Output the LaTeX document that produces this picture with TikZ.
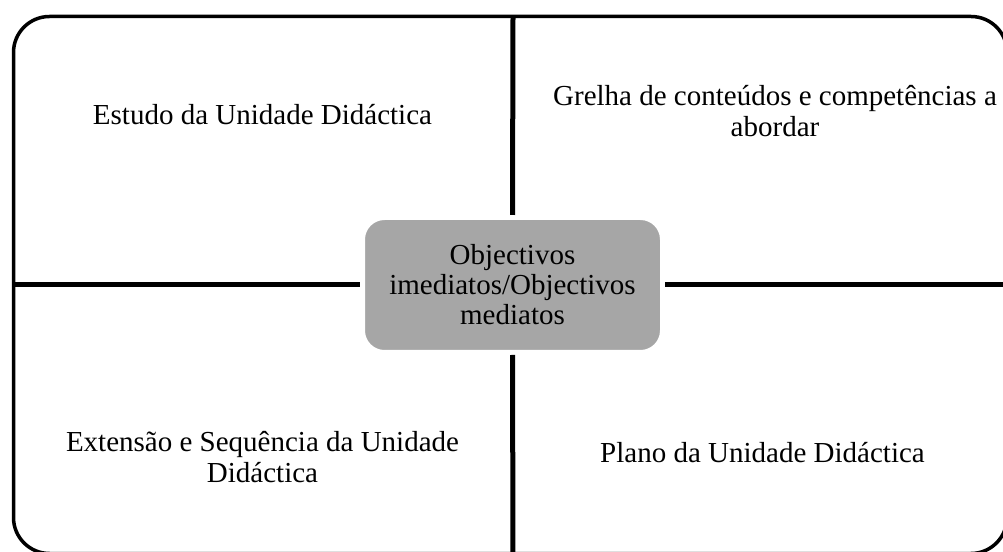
\documentclass[tikz,border=0pt]{standalone}
\usepackage{fontspec}
\setmainfont{Liberation Serif}
\definecolor{coregray}{RGB}{166,166,166}
\begin{document}
\begin{tikzpicture}[x=1pt,y=1pt,
  quadline/.style={line width=5pt, black},
  frame/.style={line width=3.5pt, black, rounded corners=36pt},
  lbl/.style={font=\fontsize{29}{31}\selectfont, align=center, inner sep=0pt},
  core/.style={lbl, font=\fontsize{29}{30}\selectfont, draw=white, line width=5pt, fill=coregray, rounded corners=22pt,
    minimum width=300pt, minimum height=135pt}]
\useasboundingbox (0,0) rectangle (1003,551);
\begin{scope}
\clip (0,0) rectangle (1003,551);
\draw[frame] (13.5,534.5) rectangle (1007,-2.5);
\coordinate (T) at (513,534.5);
\coordinate (B) at (513,-5);
\coordinate (L) at (13.5,266);
\coordinate (R) at (1010,266);
\node[core] (c) at (512.5,266) {Objectivos\\imediatos/Objectivos\\mediatos};
\draw[quadline] (T) -- (c.north);
\draw[quadline] (c.south) -- (B);
\draw[quadline] (L) -- (c.west |- L);
\draw[quadline] (c.east |- R) -- (R);
\end{scope}
\node[lbl, anchor=base] (q1) at (262.5,426) {Estudo da Unidade Didáctica};
\node[lbl, anchor=base] (q2) at (775,414) {Grelha de conteúdos e competências a\\abordar};
\node[lbl, anchor=base] (q3) at (262.5,68) {Extensão e Sequência da Unidade\\Didáctica};
\node[lbl, anchor=base] (q4) at (762.5,88) {Plano da Unidade Didáctica};
\end{tikzpicture}
\end{document}
